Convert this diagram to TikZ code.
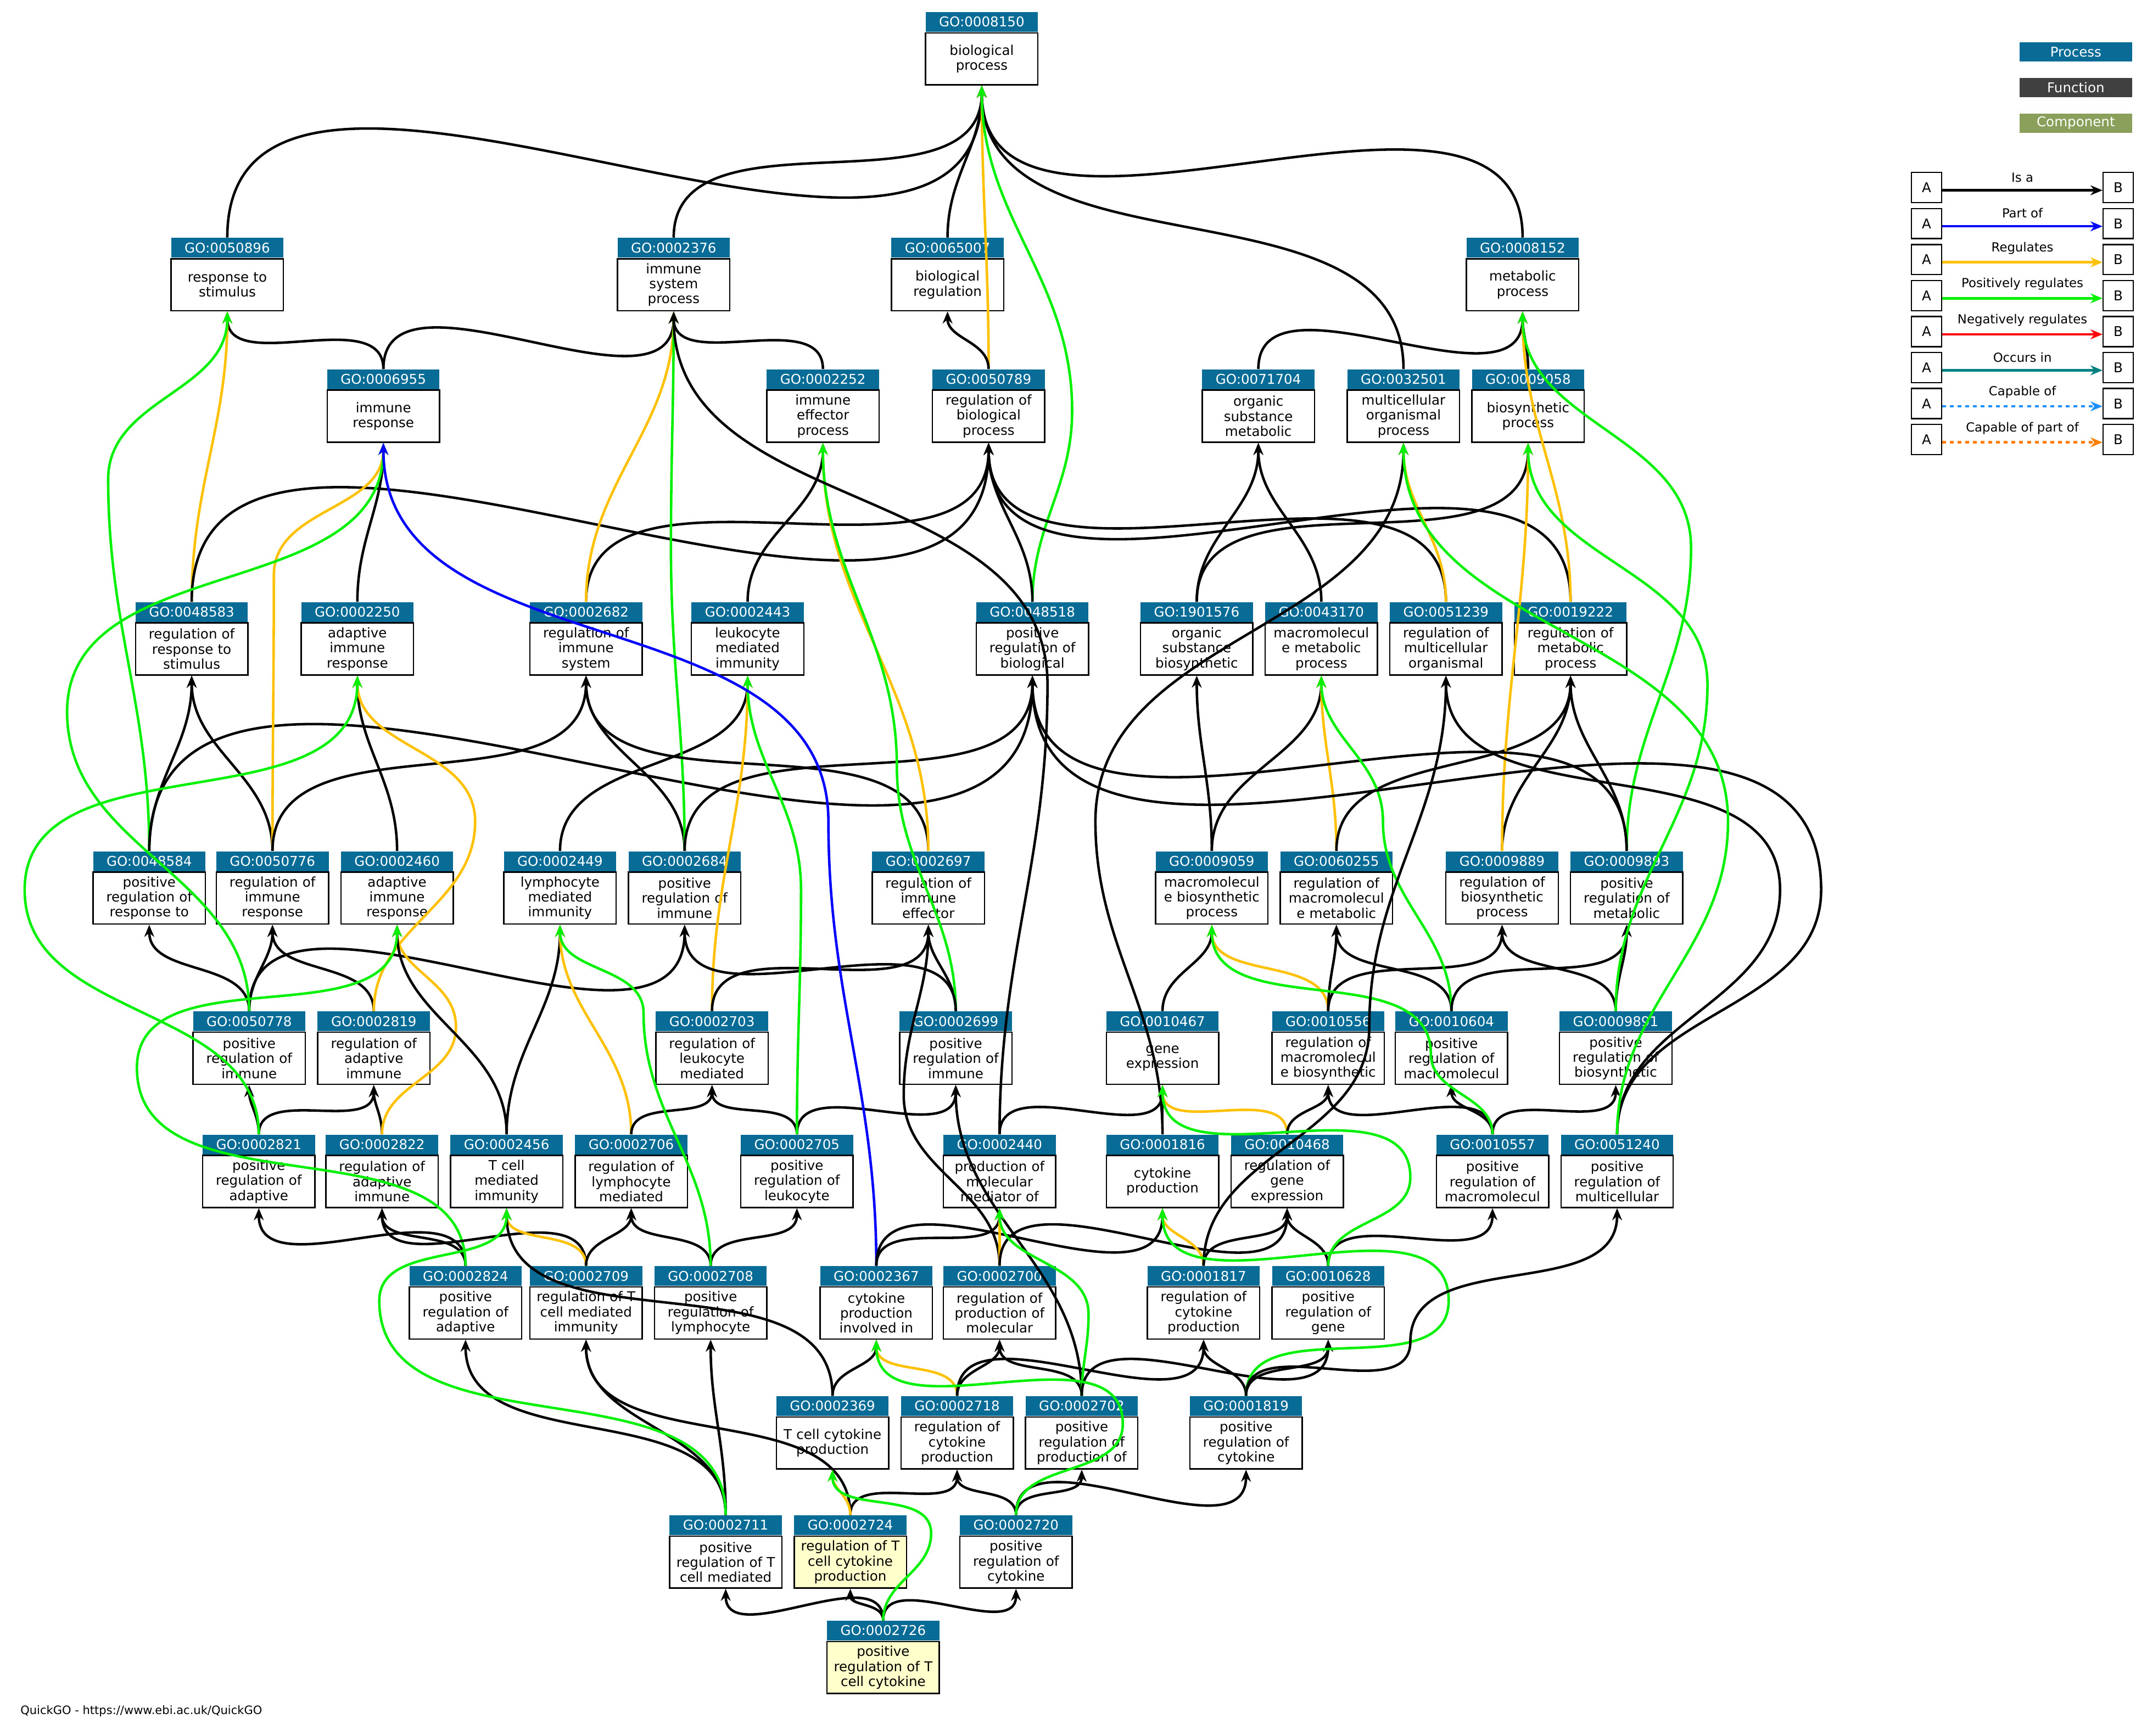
\documentclass[tikz,border=0pt]{standalone}
\usepackage{fontspec}
\setmainfont{DejaVu Sans}
\usetikzlibrary{arrows.meta,calc}
\definecolor{goblue}{RGB}{8,108,150}
\definecolor{gofunc}{RGB}{64,64,64}
\definecolor{gocomp}{RGB}{138,160,90}
\definecolor{regc}{RGB}{255,192,0}
\definecolor{pregc}{RGB}{0,240,0}
\definecolor{hilite}{RGB}{255,255,204}
\definecolor{occc}{RGB}{0,128,128}
\definecolor{capc}{RGB}{30,144,255}
\definecolor{cappc}{RGB}{255,128,0}
\tikzset{
 body/.style={draw,line width=0.7pt,minimum width=2.05cm,minimum height=0.95cm,text width=2cm,align=center,inner sep=0pt,font=\fontsize{7}{7.8}\selectfont},
 hdr/.style={fill=goblue,text=white,minimum width=2.05cm,minimum height=0.36cm,inner sep=0pt,font=\fontsize{7}{8}\selectfont},
 lg/.style={minimum width=2.05cm,minimum height=0.35cm,inner sep=0pt,text=white,font=\fontsize{7}{8}\selectfont},
 ab/.style={draw,line width=0.7pt,minimum size=0.55cm,inner sep=0pt,font=\fontsize{7}{8}\selectfont},
 edge/.style={line width=1.3pt,-{Stealth[length=2.2mm,width=1.8mm]}},
 isa/.style={edge,black},
 po/.style={edge,blue},
 reg/.style={edge,regc},
 preg/.style={edge,pregc},
 occ/.style={edge,occc},
 neg/.style={edge,red},
 capo/.style={edge,capc,dash pattern=on 2pt off 2pt},
 cappo/.style={edge,cappc,dash pattern=on 2pt off 2pt},
}
\newcommand\goT[5][white]{%
 \node[body,fill=#1] (n#2) at (#3,-#4-33) {#5};
 \node[hdr,anchor=south] (n#2h) at (n#2.north) {GO:#2};}
\newcommand\goE[3]{\draw[#1] (n#2h.north) to[out=90,in=-90] (n#3.south);}
\newcommand\goEW[4]{\draw[#1] (n#2h.north) to[out=90,in=-90] (#4) to[out=90,in=-90] (n#3.south);}
\begin{document}
\begin{tikzpicture}[x=0.025cm,y=0.025cm]
\useasboundingbox (0,0) rectangle (1568,-1268);
% row 0
\goT{0008150}{717}{10}{biological\\process}
% row 1
\goT{0050896}{166}{175}{response to\\stimulus}
\goT{0002376}{492}{175}{immune\\system\\process}
\goT{0065007}{692}{175}{biological\\regulation}
\goT{0008152}{1112}{175}{metabolic\\process}
% row 2
\goT{0006955}{280}{271}{immune\\response}
\goT{0002252}{601}{271}{immune\\effector\\process}
\goT{0050789}{722}{271}{regulation of\\biological\\process}
\goT{0071704}{919}{271}{organic\\substance\\metabolic}
\goT{0032501}{1025}{271}{multicellular\\organismal\\process}
\goT{0009058}{1116}{271}{biosynthetic\\process}
% row 3
\goT{0048583}{140}{441}{regulation of\\response to\\stimulus}
\goT{0002250}{261}{441}{adaptive\\immune\\response}
\goT{0002682}{428}{441}{regulation of\\immune\\system}
\goT{0002443}{546}{441}{leukocyte\\mediated\\immunity}
\goT{0048518}{754}{441}{positive\\regulation of\\biological}
\goT{1901576}{874}{441}{organic\\substance\\biosynthetic}
\goT{0043170}{965}{441}{macromolecul\\e metabolic\\process}
\goT{0051239}{1056}{441}{regulation of\\multicellular\\organismal}
\goT{0019222}{1147}{441}{regulation of\\metabolic\\process}
% row 4
\goT{0048584}{109}{623}{positive\\regulation of\\response to}
\goT{0050776}{199}{623}{regulation of\\immune\\response}
\goT{0002460}{290}{623}{adaptive\\immune\\response}
\goT{0002449}{409}{623}{lymphocyte\\mediated\\immunity}
\goT{0002684}{500}{623}{positive\\regulation of\\immune}
\goT{0002697}{678}{623}{regulation of\\immune\\effector}
\goT{0009059}{885}{623}{macromolecul\\e biosynthetic\\process}
\goT{0060255}{976}{623}{regulation of\\macromolecul\\e metabolic}
\goT{0009889}{1097}{623}{regulation of\\biosynthetic\\process}
\goT{0009893}{1188}{623}{positive\\regulation of\\metabolic}
% row 5
\goT{0050778}{182}{740}{positive\\regulation of\\immune}
\goT{0002819}{273}{740}{regulation of\\adaptive\\immune}
\goT{0002703}{520}{740}{regulation of\\leukocyte\\mediated}
\goT{0002699}{698}{740}{positive\\regulation of\\immune}
\goT{0010467}{849}{740}{gene\\expression}
\goT{0010556}{970}{740}{regulation of\\macromolecul\\e biosynthetic}
\goT{0010604}{1060}{740}{positive\\regulation of\\macromolecul}
\goT{0009891}{1180}{740}{positive\\regulation of\\biosynthetic}
% row 6
\goT{0002821}{189}{830}{positive\\regulation of\\adaptive}
\goT{0002822}{279}{830}{regulation of\\adaptive\\immune}
\goT{0002456}{370}{830}{T cell\\mediated\\immunity}
\goT{0002706}{461}{830}{regulation of\\lymphocyte\\mediated}
\goT{0002705}{582}{830}{positive\\regulation of\\leukocyte}
\goT{0002440}{730}{830}{production of\\molecular\\mediator of}
\goT{0001816}{849}{830}{cytokine\\production}
\goT{0010468}{940}{830}{regulation of\\gene\\expression}
\goT{0010557}{1090}{830}{positive\\regulation of\\macromolecul}
\goT{0051240}{1181}{830}{positive\\regulation of\\multicellular}
% row 7
\goT{0002824}{340}{926}{positive\\regulation of\\adaptive}
\goT{0002709}{428}{926}{regulation of T\\cell mediated\\immunity}
\goT{0002708}{519}{926}{positive\\regulation of\\lymphocyte}
\goT{0002367}{640}{926}{cytokine\\production\\involved in}
\goT{0002700}{730}{926}{regulation of\\production of\\molecular}
\goT{0001817}{879}{926}{regulation of\\cytokine\\production}
\goT{0010628}{970}{926}{positive\\regulation of\\gene}
% row 8
\goT{0002369}{608}{1021}{T cell cytokine\\production}
\goT{0002718}{699}{1021}{regulation of\\cytokine\\production}
\goT{0002702}{790}{1021}{positive\\regulation of\\production of}
\goT{0001819}{910}{1021}{positive\\regulation of\\cytokine}
% row 9
\goT{0002711}{530}{1108}{positive\\regulation of T\\cell mediated}
\goT[hilite]{0002724}{621}{1108}{regulation of T\\cell cytokine\\production}
\goT{0002720}{742}{1108}{positive\\regulation of\\cytokine}
% row 10
\goT[hilite]{0002726}{645}{1185}{positive\\regulation of T\\cell cytokine}

% edges
\goE{isa}{0050896}{0008150}
\goE{isa}{0002376}{0008150}
\goE{isa}{0065007}{0008150}
\goE{isa}{0008152}{0008150}
\goE{isa}{0032501}{0008150}
\goE{reg}{0050789}{0008150}
\goEW{preg}{0048518}{0008150}{783,-300}
\goE{isa}{0006955}{0050896}
\goE{isa}{0006955}{0002376}
\goE{isa}{0002252}{0002376}
\goE{isa}{0050789}{0065007}
\goE{isa}{0071704}{0008152}
\goE{isa}{0009058}{0008152}
\goE{reg}{0048583}{0050896}
\goE{isa}{0048583}{0050789}
\goE{isa}{0002250}{0006955}
\goE{isa}{0002682}{0050789}
\goE{reg}{0002682}{0002376}
\goE{isa}{0002443}{0002252}
\goE{isa}{0048518}{0050789}
\goE{isa}{1901576}{0071704}
\goE{isa}{1901576}{0009058}
\goE{isa}{0043170}{0071704}
\goE{isa}{0051239}{0050789}
\goE{reg}{0051239}{0032501}
\goE{isa}{0019222}{0050789}
\goE{reg}{0019222}{0008152}
\goE{isa}{0048584}{0048583}
\goEW{preg}{0048584}{0050896}{79,-350}
\goE{isa}{0048584}{0048518}
\goE{isa}{0050776}{0048583}
\goEW{reg}{0050776}{0006955}{200,-420}
\goE{isa}{0050776}{0002682}
\goE{isa}{0002460}{0002250}
\goE{isa}{0002449}{0002443}
\goE{isa}{0002684}{0002682}
\goEW{preg}{0002684}{0002376}{490,-400}
\goE{isa}{0002684}{0048518}
\goE{isa}{0002697}{0002682}
\goE{reg}{0002697}{0002252}
\goE{isa}{0009059}{1901576}
\goE{isa}{0009059}{0043170}
\goE{reg}{0060255}{0043170}
\goE{isa}{0060255}{0019222}
\goE{isa}{0009889}{0019222}
\goE{reg}{0009889}{0009058}
\goE{isa}{0009893}{0019222}
\goEW{preg}{0009893}{0008152}{1235,-400}
\goE{isa}{0009893}{0048518}
\goE{isa}{0050778}{0048584}
\goE{isa}{0050778}{0050776}
\goE{isa}{0050778}{0002684}
\goEW{preg}{0050778}{0006955}{49,-520}
\goE{isa}{0002819}{0050776}
\goEW{reg}{0002819}{0002250}{347,-600}
\goE{reg}{0002703}{0002443}
\goE{isa}{0002703}{0002697}
\goE{isa}{0002699}{0002697}
\goEW{preg}{0002699}{0002252}{655,-560}
\goE{isa}{0002699}{0002684}
\goE{isa}{0010467}{0009059}
\goE{reg}{0010556}{0009059}
\goE{isa}{0010556}{0060255}
\goE{isa}{0010556}{0009889}
\goE{isa}{0010604}{0060255}
\goEW{preg}{0010604}{0043170}{1010,-600}
\goE{isa}{0010604}{0009893}
\goE{isa}{0009891}{0009889}
\goE{isa}{0009891}{0009893}
\goEW{preg}{0009891}{0009058}{1247,-500}
\goE{isa}{0002821}{0050778}
\goE{isa}{0002821}{0002819}
\goEW{preg}{0002821}{0002250}{18,-650}
\goE{isa}{0002822}{0002819}
\goEW{reg}{0002822}{0002460}{333,-750}
\goE{isa}{0002456}{0002460}
\goE{isa}{0002456}{0002449}
\goE{reg}{0002706}{0002449}
\goE{isa}{0002706}{0002703}
\goE{isa}{0002705}{0002703}
\goE{isa}{0002705}{0002699}
\goEW{preg}{0002705}{0002443}{585,-650}
\goEW{isa}{0002440}{0002376}{765,-500}
\goE{isa}{0002440}{0010467}
\goE{isa}{0001816}{0010467}
\goEW{isa}{0001816}{0032501}{800,-600}
\goE{reg}{0010468}{0010467}
\goE{isa}{0010468}{0010556}
\goE{isa}{0010557}{0010556}
\goE{isa}{0010557}{0010604}
\goE{isa}{0010557}{0009891}
\goEW{preg}{0010557}{0009059}{1045,-770}
\goEW{isa}{0051240}{0048518}{1330,-650}
\goEW{isa}{0051240}{0051239}{1300,-650}
\goEW{preg}{0051240}{0032501}{1262,-600}
\goE{isa}{0002824}{0002821}
\goE{isa}{0002824}{0002822}
\goEW{preg}{0002824}{0002460}{100,-780}
\goE{isa}{0002709}{0002822}
\goE{reg}{0002709}{0002456}
\goE{isa}{0002709}{0002706}
\goE{isa}{0002708}{0002706}
\goE{isa}{0002708}{0002705}
\goEW{preg}{0002708}{0002449}{470,-740}
\goEW{po}{0002367}{0006955}{605,-600}
\goE{isa}{0002367}{0002440}
\goE{isa}{0002367}{0001816}
\goEW{isa}{0002700}{0002697}{660,-800}
\goE{reg}{0002700}{0002440}
\goE{isa}{0002700}{0010468}
\goE{reg}{0001817}{0001816}
\goE{isa}{0001817}{0010468}
\goEW{isa}{0001817}{0051239}{1000,-750}
\goE{isa}{0010628}{0010468}
\goE{isa}{0010628}{0010557}
\goEW{preg}{0010628}{0010467}{1030,-860}
\goE{isa}{0002369}{0002367}
\goE{isa}{0002369}{0002456}
\goE{reg}{0002718}{0002367}
\goE{isa}{0002718}{0002700}
\goE{isa}{0002718}{0001817}
\goE{isa}{0002702}{0002699}
\goE{isa}{0002702}{0002700}
\goEW{preg}{0002702}{0002440}{795,-960}
\goE{isa}{0002702}{0010628}
\goE{isa}{0001819}{0001817}
\goE{isa}{0001819}{0010628}
\goEW{preg}{0001819}{0001816}{1058,-950}
\goEW{isa}{0001819}{0051240}{1030,-980}
\goE{isa}{0002711}{0002824}
\goE{isa}{0002711}{0002709}
\goE{isa}{0002711}{0002708}
\goEW{preg}{0002711}{0002456}{277,-950}
\goE{isa}{0002724}{0002709}
\goE{isa}{0002724}{0002718}
\goE{reg}{0002724}{0002369}
\goE{isa}{0002720}{0002718}
\goE{isa}{0002720}{0002702}
\goE{isa}{0002720}{0001819}
\goEW{preg}{0002720}{0002367}{820,-1040}
\goE{isa}{0002726}{0002711}
\goE{isa}{0002726}{0002724}
\goE{isa}{0002726}{0002720}
\goEW{preg}{0002726}{0002369}{680,-1120}

% legend
\node[lg,fill=goblue] (lproc) at (1516,-38) {Process};
\node[lg,fill=gofunc] (lfunc) at (1516,-64) {Function};
\node[lg,fill=gocomp] (lcomp) at (1516,-90) {Component};
\foreach \i/\lab/\st in {0/Is a/isa,1/Part of/po,2/Regulates/reg,3/Positively regulates/preg,4/Negatively regulates/neg,5/Occurs in/occ,6/Capable of/capo,7/Capable of part of/cappo}{
 \node[ab] (la\i) at (1407,-137-26.3*\i) {A};
 \node[ab] (lb\i) at (1547,-137-26.3*\i) {B};
 \draw[\st] ($(la\i.east)+(0,-2)$) coordinate (ls\i) -- (lb\i.west |- ls\i) coordinate (le\i);
 \node[font=\fontsize{6.5}{7}\selectfont,anchor=south] (ll\i) at ($(ls\i)!0.5!(le\i)+(0,1)$) {\lab};
}
\node[anchor=west,font=\fontsize{6}{7}\selectfont] (foot) at (10,-1250) {QuickGO - https://www.ebi.ac.uk/QuickGO};
\end{tikzpicture}
\end{document}
